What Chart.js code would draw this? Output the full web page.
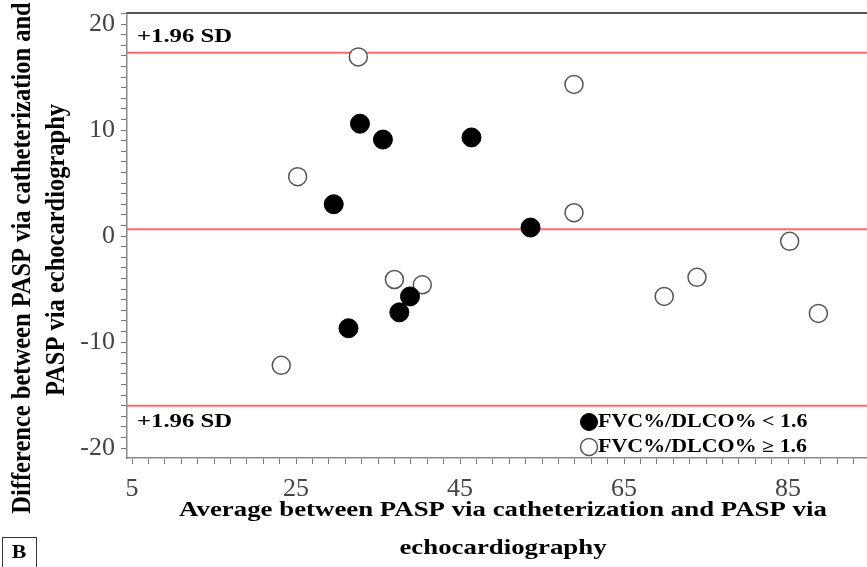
<!DOCTYPE html>
<html>
<head>
<meta charset="utf-8">
<title>PASP Bland-Altman</title>
<script src="https://cdn.jsdelivr.net/npm/chart.js@4.4.0/dist/chart.umd.min.js"></script>
<style>
  html, body { margin: 0; padding: 0; background: #fff; }
  canvas { display: block; }
</style>
</head>
<body>
<canvas id="grafico" width="867" height="567"></canvas>
<script>
// FVC%/DLCO% < 1.6 (filled)
var lowX = [32.8, 35.6, 46.4, 29.6, 53.6, 38.9, 37.6, 31.4];
var lowY = [10.6, 9.1, 9.3, 3.0, 0.8, -5.7, -7.2, -8.7];

// FVC%/DLCO% >= 1.6 (open)
var highX = [32.6, 58.9, 25.2, 58.9, 85.2, 37.0, 40.4, 73.9, 69.9, 88.7, 23.2];
var highY = [16.9, 14.3, 5.6, 2.2, -0.5, -4.1, -4.6, -3.9, -5.7, -7.3, -12.2];

// upper limit, mean difference, lower limit
var sdLines = [17.3, 0.65, -16.0];

var xTickLabels = [5, 25, 45, 65, 85];
var yTickLabels = [20, 10, 0, -10, -20];

var legendLabels = ['FVC%/DLCO% < 1.6', 'FVC%/DLCO% \u2265 1.6'];
var xTitle = ['Average between PASP via catheterization and PASP via', 'echocardiography'];
var yTitle = ['Difference between PASP via catheterization and', 'PASP via echocardiography'];
var sdLabel = '+1.96 SD';

var X_MIN = 4.39, X_MAX = 94.63;
var Y_MIN = -20.94, Y_MAX = 21.04;

function pontos(xs, ys) {
    return xs.map(function(x, i) { return {x: x, y: ys[i]}; });
}

function linha(v) {
    return {
        type: 'line',
        data: [{x: X_MIN, y: v}, {x: X_MAX, y: v}],
        borderColor: '#ff6a6a',
        borderWidth: 2,
        pointRadius: 0,
        order: 2
    };
}

// text stretched sideways like the original figure
function texto(ctx, str, x, y, font, align, sx) {
    ctx.save();
    ctx.translate(x, y);
    ctx.scale(sx, 1);
    ctx.font = font;
    ctx.textAlign = align;
    ctx.textBaseline = 'middle';
    ctx.fillStyle = '#000';
    ctx.fillText(str, 0, 0);
    ctx.restore();
}

function textoVertical(ctx, str, x, y, font) {
    ctx.save();
    ctx.font = font;
    ctx.textAlign = 'center';
    ctx.textBaseline = 'middle';
    ctx.fillStyle = '#000';
    ctx.translate(x, y);
    ctx.rotate(-Math.PI / 2);
    ctx.scale(1, 1.1);
    ctx.fillText(str, 0, 0);
    ctx.restore();
}

var anotacoes = {
    id: 'anotacoes',
    afterDraw: function(chart) {
        var ctx = chart.ctx;
        var area = chart.chartArea;
        var ys = chart.scales.y;
        var serif = '"Liberation Serif", "Times New Roman", serif';

        // top frame
        ctx.save();
        ctx.strokeStyle = '#555';
        ctx.lineWidth = 2;
        ctx.beginPath();
        ctx.moveTo(area.left, area.top);
        ctx.lineTo(area.right, area.top);
        ctx.stroke();
        ctx.restore();

        texto(ctx, sdLabel, area.left + 10, ys.getPixelForValue(sdLines[0]) - 16, 'bold 19px ' + serif, 'left', 1.3);
        texto(ctx, sdLabel, area.left + 10, ys.getPixelForValue(sdLines[2]) + 16, 'bold 19px ' + serif, 'left', 1.3);

        // legend
        var ds = chart.data.datasets;
        [0, 1].forEach(function(i) {
            var cy = 422 + i * 25;
            ctx.save();
            ctx.beginPath();
            ctx.arc(589, cy, 8.5, 0, Math.PI * 2);
            ctx.fillStyle = ds[i].backgroundColor;
            ctx.fill();
            ctx.lineWidth = ds[i].borderWidth;
            ctx.strokeStyle = ds[i].borderColor;
            ctx.stroke();
            ctx.restore();
            texto(ctx, legendLabels[i], 598, cy, 'bold 18px ' + serif, 'left', 1.22);
        });

        // axis titles
        texto(ctx, xTitle[0], 503, 510, 'bold 22px ' + serif, 'center', 1.22);
        texto(ctx, xTitle[1], 503, 548, 'bold 22px ' + serif, 'center', 1.22);
        textoVertical(ctx, yTitle[0], 23, 258, 'bold 24.5px ' + serif);
        textoVertical(ctx, yTitle[1], 57, 250, 'bold 24.5px ' + serif);

        // panel letter
        ctx.save();
        ctx.strokeStyle = '#333';
        ctx.lineWidth = 1;
        ctx.strokeRect(2.5, 537.5, 34, 32);
        ctx.restore();
        texto(ctx, 'B', 19, 553, 'bold 19px ' + serif, 'center', 1.15);
    }
};

var grafico = new Chart(document.getElementById('grafico').getContext('2d'), {
    type: 'scatter',
    data: {
        datasets: [{
            label: legendLabels[0],
            data: pontos(lowX, lowY),
            backgroundColor: '#000',
            borderColor: '#000',
            borderWidth: 1,
            pointRadius: 9.5,
            order: 0
        }, {
            label: legendLabels[1],
            data: pontos(highX, highY),
            backgroundColor: '#fff',
            borderColor: '#555',
            borderWidth: 1.5,
            pointRadius: 9,
            order: 1
        },
        linha(sdLines[0]),
        linha(sdLines[1]),
        linha(sdLines[2])]
    },
    options: {
        responsive: false,
        animation: false,
        devicePixelRatio: 1,
        layout: { autoPadding: false, padding: { top: 13, left: 0, right: 0, bottom: 0 } },
        plugins: {
            legend: { display: false },
            tooltip: { enabled: false }
        },
        scales: {
            x: {
                type: 'linear',
                min: X_MIN,
                max: X_MAX,
                afterBuildTicks: function(axis) {
                    var t = [];
                    for (var v = 5; v <= 93; v += 2) t.push({value: v});
                    axis.ticks = t;
                },
                afterFit: function(axis) {
                    axis.height = 109;
                    axis.paddingLeft = 0;
                    axis.paddingRight = 0;
                },
                ticks: {
                    autoSkip: false,
                    maxRotation: 0,
                    padding: 10,
                    color: '#444',
                    font: { family: '"Liberation Serif", serif', size: 26 },
                    callback: function(v) { return xTickLabels.indexOf(v) >= 0 ? String(v) : ''; }
                },
                grid: { drawOnChartArea: false, drawTicks: true, tickLength: 6, color: '#777' },
                border: { color: '#888', width: 1.5 }
            },
            y: {
                type: 'linear',
                min: Y_MIN,
                max: Y_MAX,
                afterBuildTicks: function(axis) {
                    var t = [];
                    for (var v = -20; v <= 21; v++) t.push({value: v});
                    axis.ticks = t;
                },
                afterFit: function(axis) {
                    axis.width = 127;
                    axis.paddingTop = 0;
                    axis.paddingBottom = 0;
                },
                ticks: {
                    autoSkip: false,
                    padding: 6,
                    color: '#444',
                    font: { family: '"Liberation Serif", serif', size: 26 },
                    callback: function(v) { return yTickLabels.indexOf(v) >= 0 ? String(v) : ''; }
                },
                grid: { drawOnChartArea: false, drawTicks: true, tickLength: 6, color: '#777' },
                border: { color: '#888', width: 1.5 }
            }
        }
    },
    plugins: [anotacoes]
});
</script>
</body>
</html>
